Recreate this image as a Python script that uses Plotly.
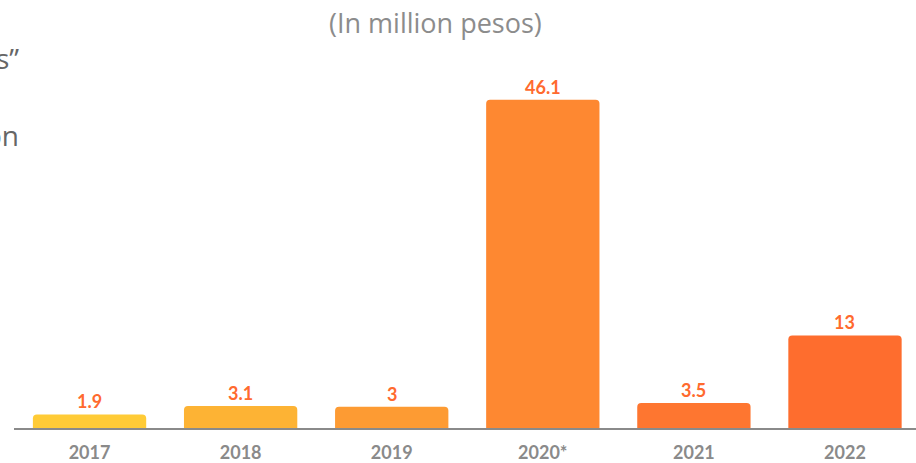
import plotly.graph_objects as go

years = ["2017", "2018", "2019", "2020*", "2021", "2022"]
values = [1.9, 3.1, 3.0, 46.1, 3.5, 13.0]
labels = ["1.9", "3.1", "3", "46.1", "3.5", "13"]
colors = ["#FFCB36", "#FDB334", "#FD9B33", "#FE8831", "#FE7630", "#FE6D2E"]

fig = go.Figure(go.Bar(
    x=years, y=values,
    marker=dict(color=colors, line=dict(width=0)),
))

for i, (v, lab) in enumerate(zip(values, labels)):
    fig.add_annotation(x=i, y=v, text=f"<b>{lab}</b>", showarrow=False,
                       xanchor="center", yanchor="bottom", yshift=0,
                       font=dict(family="Lato", size=18, color="#FF6A2E"))

fig.update_layout(
    width=916, height=463,
    margin=dict(l=14, r=0, t=60, b=35),
    paper_bgcolor="white", plot_bgcolor="white",
    bargap=0.25,
    barcornerradius=4,
    showlegend=False,
    xaxis=dict(showline=True, linecolor="#8a8a8a", linewidth=1.5, ticks="",
               range=[-0.5, 5.47], ticklabelstandoff=8, automargin=False,
               type="category",
               tickfont=dict(family="Lato", size=18, color="#8a8a8a", weight="bold"),
               showgrid=False),
    yaxis=dict(range=[0, 51.7], visible=False, showgrid=False, zeroline=False,
               automargin=False),
)
fig.add_annotation(text="(In million pesos)", xref="paper", yref="paper", x=(435 - 14) / 902,
                   y=1 + 38 / 368, xanchor="center", yanchor="middle", showarrow=False,
                   font=dict(family="Open Sans", size=27, color="#8c8c8c"))
fig.add_annotation(text="s\u201d", xref="paper", yref="paper", x=(21 - 14) / 902,
                   y=1 + 2 / 368, xanchor="right", yanchor="middle", showarrow=False,
                   font=dict(family="Open Sans", size=28, color="#666666"))
fig.add_annotation(text="on", xref="paper", yref="paper", x=(21 - 14) / 902,
                   y=1 - 75 / 368, xanchor="right", yanchor="middle", showarrow=False,
                   font=dict(family="Open Sans", size=28, color="#666666"))

fig.write_html("out.html")
